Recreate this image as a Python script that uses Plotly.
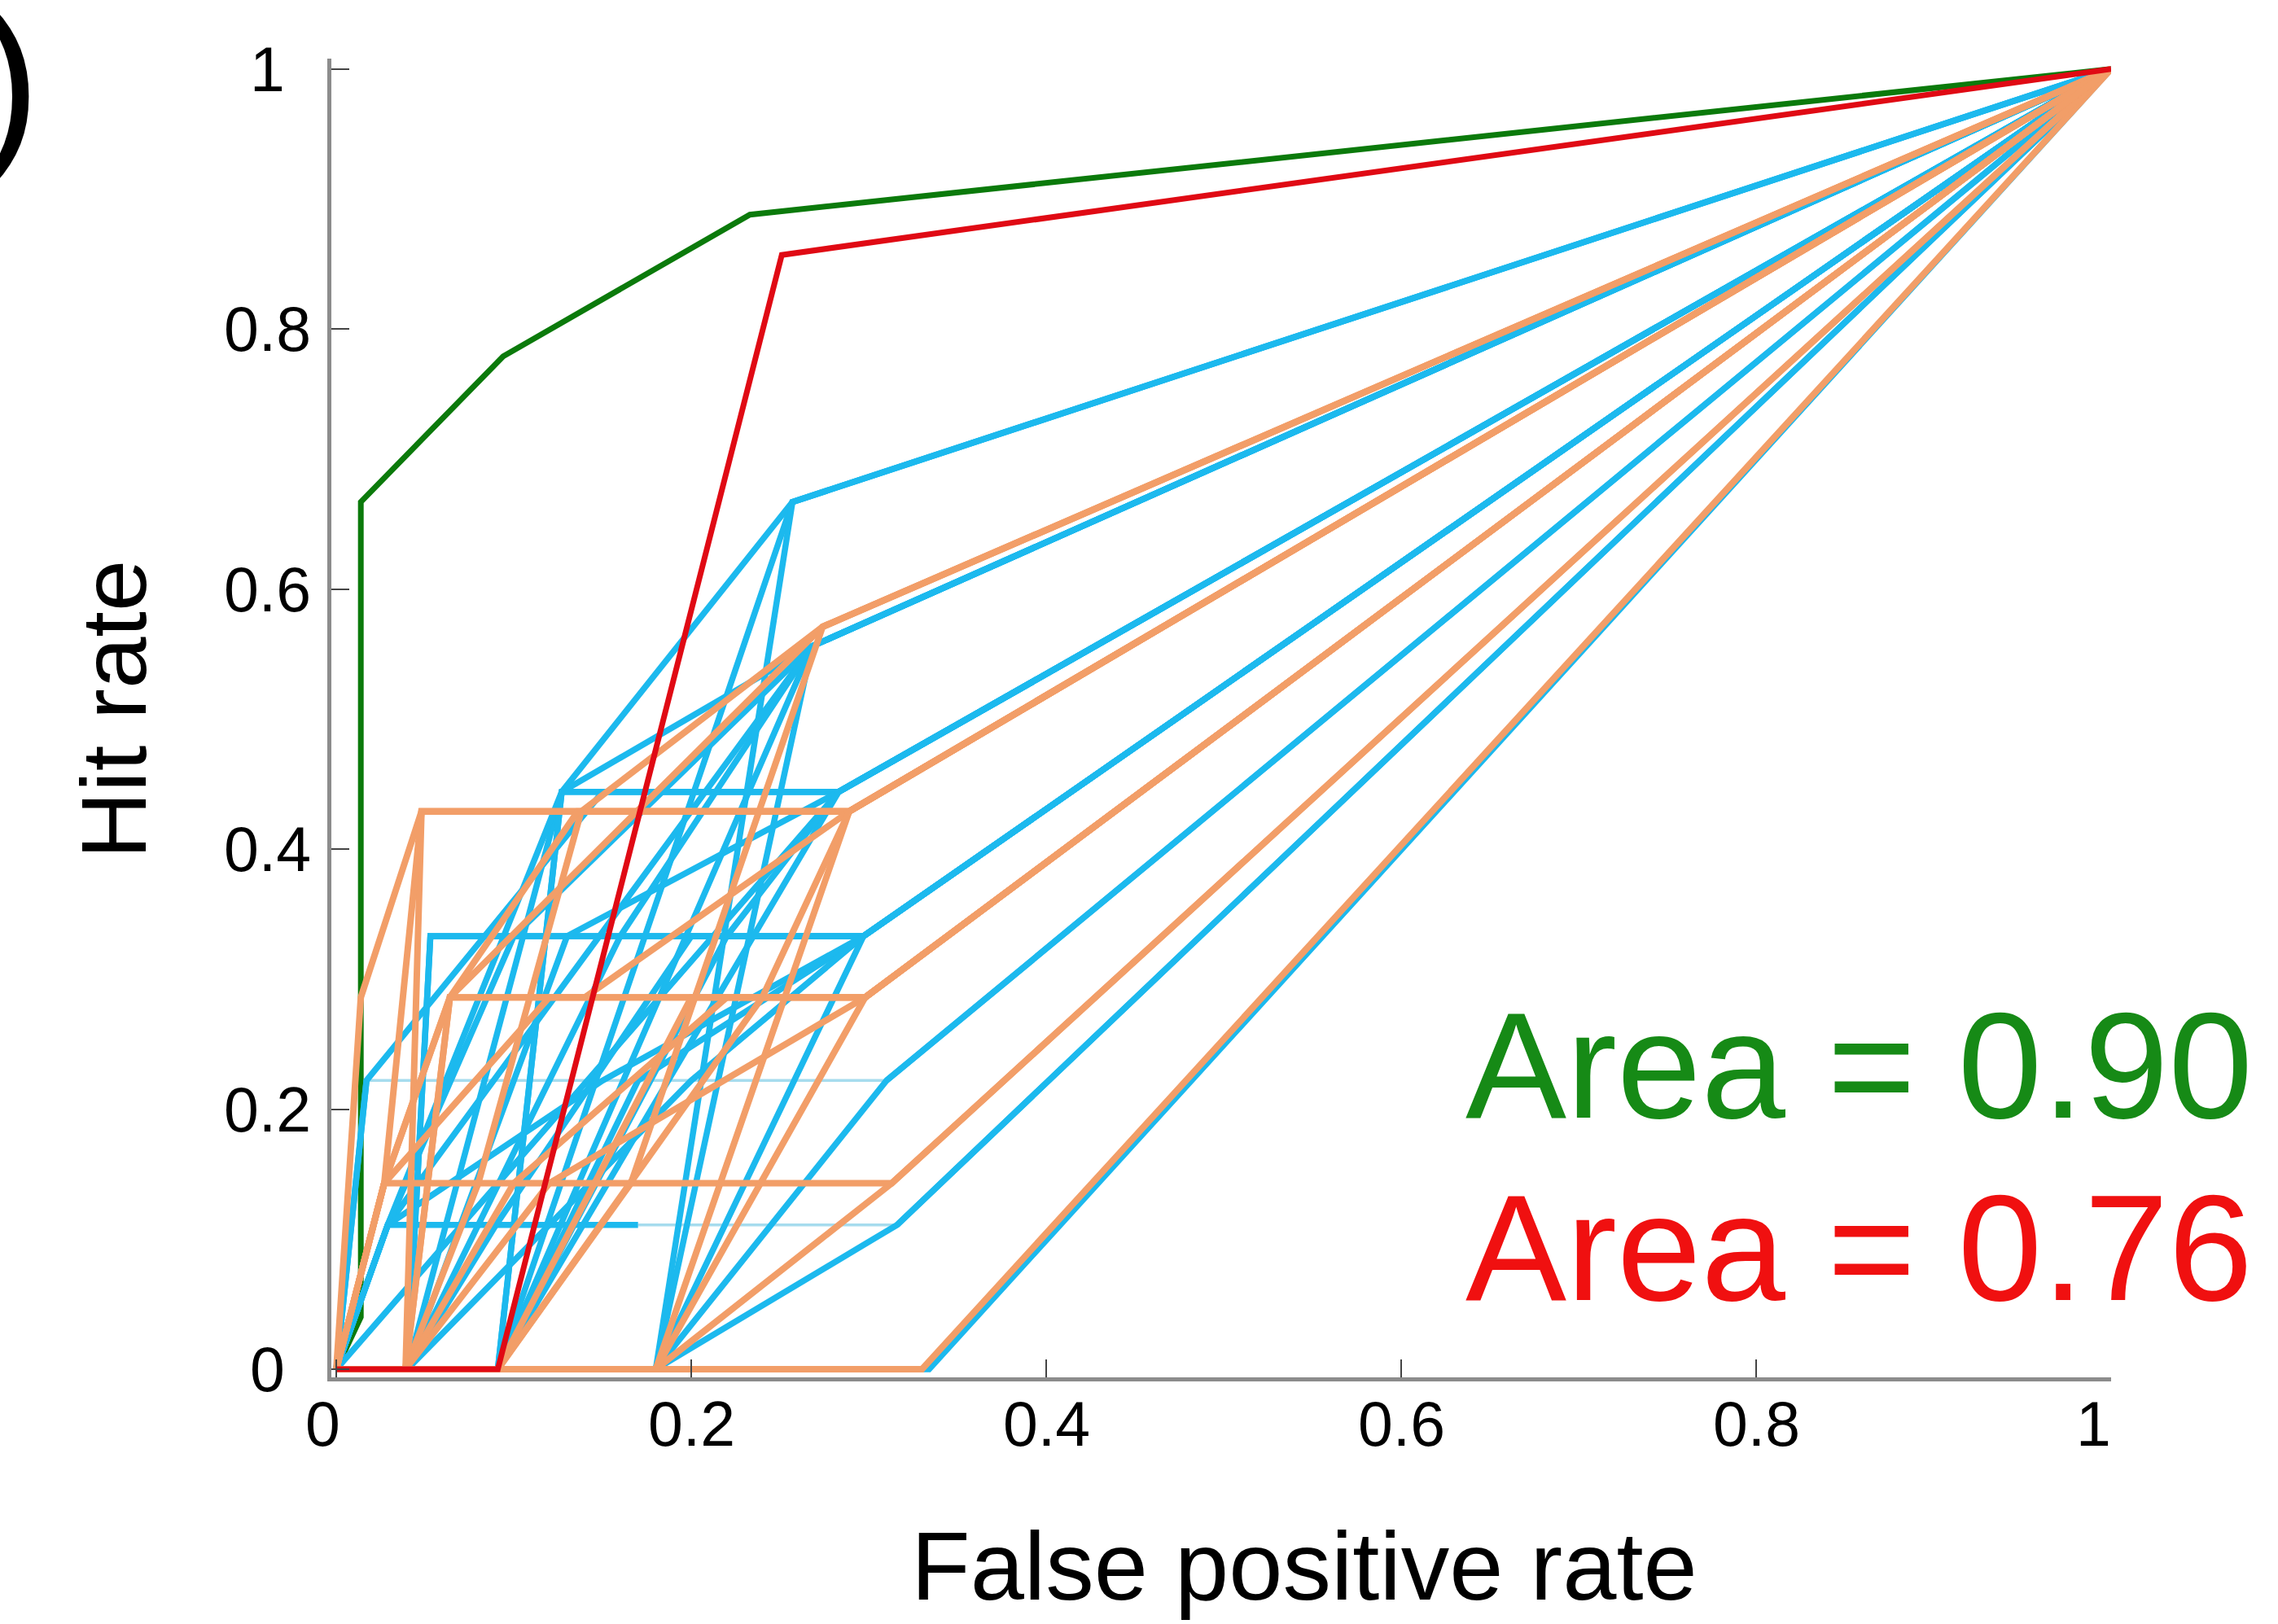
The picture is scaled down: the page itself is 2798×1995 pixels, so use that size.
import plotly.graph_objects as go

# ---------------- data ----------------
tick_vals = [0, 0.2, 0.4, 0.6, 0.8, 1]
tick_text = ["0", "0.2", "0.4", "0.6", "0.8", "1"]

green_fpr = [0, 0.0138, 0.0138, 0.094, 0.233, 1]
green_hit = [0, 0.04, 0.667, 0.779, 0.888, 1]

red_fpr = [0, 0.091, 0.251, 1]
red_hit = [0, 0, 0.857, 1]

blue_fpr = [
    [0, 0.334, 1],
    [0, 0.029, 0.17],
    [0.316, 1],
    [0, 0.017],
    [0.31, 1],
    [0, 0.04, 0.053, 0.297, 1],
    [0, 0.091, 0.127, 0.283, 1],
    [0, 0.04, 0.127, 0.257, 1],
    [0, 0.18, 0.268, 1],
    [0, 0.091, 0.257, 1],
    [0, 0.18, 0.257, 1],
    [0, 0.091, 0.127, 0.268, 1],
    [0, 0.091, 0.268, 1],
    [0, 0.029, 0.268, 1],
    [0, 0.283, 1],
    [0, 0.091, 0.283, 1],
    [0, 0.029, 0.127, 0.283, 1],
    [0, 0.18, 0.316, 1],
    [0, 0.18, 0.31, 1],
    [0, 0.18, 0.297, 1],
    [0, 0.04, 0.13, 0.297, 1],
    [0, 0.029, 0.1, 0.268, 1],
    [0, 0.017, 0.15, 0.283, 1],
    [0, 0.091, 0.17, 0.297, 1],
    [0, 0.04, 0.09, 0.2, 0.297, 1],
    [0, 0.04, 0.053, 0.13, 0.283, 1],
    [0, 0.029, 0.15, 0.297, 1],
    [0, 0.04, 0.2, 0.297, 1],
    [0, 0.091, 0.22, 0.283, 1],
    [0, 0.04, 0.16, 0.268, 1],
]
blue_hit = [
    [0, 0, 1],
    [0, 0.111, 0.111],
    [0.111, 1],
    [0, 0.222],
    [0.222, 1],
    [0, 0, 0.333, 0.333, 1],
    [0, 0, 0.444, 0.444, 1],
    [0, 0, 0.444, 0.667, 1],
    [0, 0, 0.556, 1],
    [0, 0, 0.667, 1],
    [0, 0, 0.667, 1],
    [0, 0, 0.444, 0.556, 1],
    [0, 0, 0.556, 1],
    [0, 0.111, 0.556, 1],
    [0, 0.444, 1],
    [0, 0, 0.444, 1],
    [0, 0.111, 0.444, 0.444, 1],
    [0, 0, 0.111, 1],
    [0, 0, 0.222, 1],
    [0, 0, 0.333, 1],
    [0, 0, 0.333, 0.333, 1],
    [0, 0.111, 0.333, 0.556, 1],
    [0, 0.222, 0.444, 0.444, 1],
    [0, 0, 0.222, 0.333, 1],
    [0, 0, 0.111, 0.333, 0.333, 1],
    [0, 0, 0.333, 0.333, 0.444, 1],
    [0, 0.111, 0.222, 0.333, 1],
    [0, 0, 0.222, 0.333, 1],
    [0, 0, 0.333, 0.444, 1],
    [0, 0, 0.333, 0.556, 1],
]

# faint (thin, light) blue horizontal runs
faint_fpr = [[0.017, 0.31], [0.17, 0.316]]
faint_hit = [[0.222, 0.222], [0.111, 0.111]]

orange_fpr = [
    [0, 0.33, 1],
    [0, 0.027, 0.313, 1],
    [0, 0.0138, 0.048, 0.289, 1],
    [0, 0.039, 0.064, 0.298, 1],
    [0, 0.039, 0.048, 0.289, 1],
    [0, 0.027, 0.048, 0.289, 1],
    [0, 0.039, 0.08, 0.138, 0.274, 1],
    [0, 0.027, 0.064, 0.274, 1],
    [0, 0.091, 0.166, 0.274, 1],
    [0, 0.18, 0.313, 1],
    [0, 0.18, 0.298, 1],
    [0, 0.18, 0.289, 1],
    [0, 0.091, 0.2, 0.298, 1],
    [0, 0.027, 0.12, 0.298, 1],
    [0, 0.027, 0.064, 0.136, 0.289, 1],
    [0, 0.039, 0.064, 0.14, 0.289, 1],
    [0, 0.039, 0.12, 0.298, 1],
    [0, 0.091, 0.24, 0.289, 1],
    [0, 0.039, 0.1, 0.22, 0.298, 1],
]
orange_hit = [
    [0, 0, 1],
    [0, 0.143, 0.143, 1],
    [0, 0.286, 0.429, 0.429, 1],
    [0, 0, 0.286, 0.286, 1],
    [0, 0, 0.429, 0.429, 1],
    [0, 0.143, 0.429, 0.429, 1],
    [0, 0, 0.143, 0.429, 0.571, 1],
    [0, 0.143, 0.286, 0.571, 1],
    [0, 0, 0.143, 0.571, 1],
    [0, 0, 0.143, 1],
    [0, 0, 0.286, 1],
    [0, 0, 0.429, 1],
    [0, 0, 0.286, 0.286, 1],
    [0, 0.143, 0.286, 0.286, 1],
    [0, 0.143, 0.286, 0.429, 0.429, 1],
    [0, 0, 0.286, 0.286, 0.429, 1],
    [0, 0, 0.143, 0.286, 1],
    [0, 0, 0.286, 0.429, 1],
    [0, 0, 0.143, 0.286, 0.286, 1],
]

area_labels = ["Area = 0.90", "Area = 0.76"]

# ---------------- styling / layout ----------------
W, H = 2798, 1995
L, R, T, B = 407, 205, 72, 303
PW, PH = W - L - R, H - T - B

BLUE = "#1CB9EE"
FAINT = "#A6DCEE"
ORANGE = "#F29E68"
GREEN = "#0B7A0B"
RED = "#E00A14"
FONT = "Liberation Sans, Arial, sans-serif"
TICK_SIZE = 77
# small horizontal nudges (px) of the x tick labels, as in the original
x_label_shift = [-17, 0, 0, 0, 0, -22]


def px(x):
    return (x - L) / PW


def py(y):
    return 1 - (y - T) / PH


fig = go.Figure()
fig.add_trace(go.Scatter(x=green_fpr, y=green_hit, mode="lines",
                         line=dict(color=GREEN, width=7), showlegend=False))
for xs, ys in zip(faint_fpr, faint_hit):
    fig.add_trace(go.Scatter(x=xs, y=ys, mode="lines",
                             line=dict(color=FAINT, width=3.5), showlegend=False))
for xs, ys in zip(blue_fpr, blue_hit):
    fig.add_trace(go.Scatter(x=xs, y=ys, mode="lines",
                             line=dict(color=BLUE, width=7.5), showlegend=False))
for xs, ys in zip(orange_fpr, orange_hit):
    fig.add_trace(go.Scatter(x=xs, y=ys, mode="lines",
                             line=dict(color=ORANGE, width=8), showlegend=False))
fig.add_trace(go.Scatter(x=red_fpr, y=red_hit, mode="lines",
                         line=dict(color=RED, width=7), showlegend=False))

axis_common = dict(
    showgrid=False, zeroline=False, showline=True, linecolor="#8c8c8c",
    linewidth=5, ticks="inside", ticklen=22, tickwidth=2, tickcolor="#444",
    tickvals=tick_vals, showticklabels=False,
)
fig.update_xaxes(range=[-0.0028, 1.0], **axis_common)
fig.update_yaxes(range=[-0.0063, 1.008], **axis_common)

annotations = []
# tick labels (centred, like the original)
for v, t in zip(tick_vals, tick_text):
    annotations.append(dict(text=t, x=px(328), y=v, xref="paper", yref="y",
                            font=dict(family=FONT, size=TICK_SIZE, color="black")))
for v, t, s in zip(tick_vals, tick_text, x_label_shift):
    annotations.append(dict(text=t, x=v, y=py(1749), xref="x", yref="paper",
                            xshift=s,
                            font=dict(family=FONT, size=TICK_SIZE, color="black")))

annotations += [
    dict(text="Hit rate", x=px(139), y=py(872), textangle=-90,
         font=dict(family=FONT, size=114, color="black")),
    dict(text="False positive rate", x=px(1602), y=py(1923),
         font=dict(family=FONT, size=119, color="black")),
    dict(text=area_labels[0], x=px(2769), y=py(1308), xanchor="right",
         font=dict(family=FONT, size=186, color="#168A16")),
    dict(text=area_labels[1], x=px(2769), y=py(1532), xanchor="right",
         font=dict(family=FONT, size=186, color="#F01010")),
    dict(text=")", x=px(52), y=py(98), xanchor="right",
         font=dict(family=FONT, size=230, color="black")),
]
for a in annotations:
    a.setdefault("xref", "paper")
    a.setdefault("yref", "paper")
    a["showarrow"] = False
    a.setdefault("xanchor", "center")
    a.setdefault("yanchor", "middle")

fig.update_layout(
    width=W, height=H, margin=dict(l=L, r=R, t=T, b=B),
    paper_bgcolor="white", plot_bgcolor="white",
    annotations=annotations, showlegend=False,
)

fig.write_html("out.html")
